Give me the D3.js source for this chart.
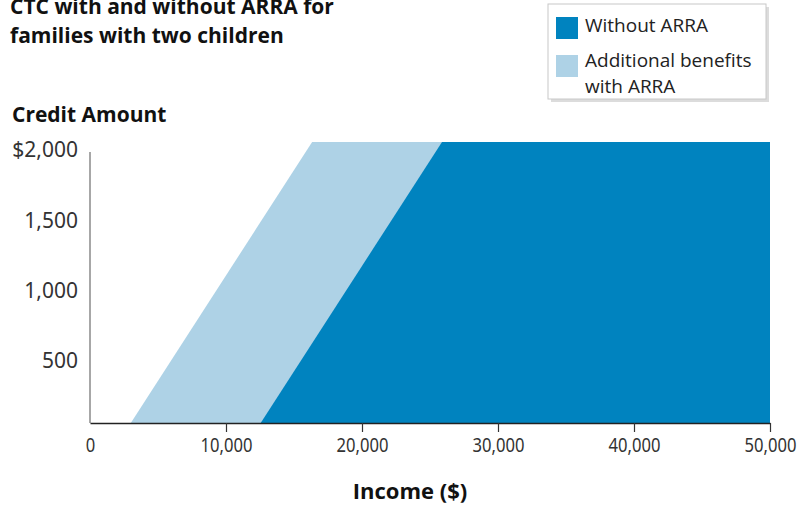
<!DOCTYPE html>
<html>
<head>
<meta charset="utf-8">
<script src="https://cdn.jsdelivr.net/npm/d3@7"></script>
<style>
  body { margin: 0; background: #fff; }
  svg { display: block; }
</style>
</head>
<body>
<svg id="chart"></svg>
<script>
// CTC with and without ARRA, two children
const xTicks = [0, 10000, 20000, 30000, 40000, 50000];
const yTicks = [500, 1000, 1500, 2000];

const withArraIncome = [3000, 16333, 50000];
const withArraCredit = [0, 2000, 2000];
const withoutIncome = [12550, 25883, 50000];
const withoutCredit = [0, 2000, 2000];

const legendLabels = [["Without ARRA"], ["Additional benefits", "with ARRA"]];

const width = 799, height = 508;
const dark = "#0083bf", light = "#aed2e6";
const bold = "'Open Sans', 'Noto Sans', sans-serif";

const svg = d3.select("#chart")
  .attr("width", width)
  .attr("height", height);

const x = d3.scaleLinear().domain([0, 50000]).range([90, 770]);
const y = d3.scaleLinear().domain([0, 2000]).range([423, 142]);

const area = d3.area()
  .x(d => x(d[0]))
  .y0(y(0))
  .y1(d => y(d[1]));

svg.append("path")
  .datum(d3.zip(withArraIncome, withArraCredit))
  .attr("fill", light)
  .attr("d", area);

svg.append("path")
  .datum(d3.zip(withoutIncome, withoutCredit))
  .attr("fill", dark)
  .attr("d", area);

// y axis: gray line, labels only
svg.append("line")
  .attr("x1", x(0)).attr("x2", x(0))
  .attr("y1", y(0)).attr("y2", y(2000) + 10)
  .attr("stroke", "#8a8a8a")
  .attr("stroke-width", 1.5);

svg.append("g")
  .selectAll("text")
  .data(yTicks)
  .join("text")
  .attr("x", 78)
  .attr("y", d => y(d) + 8)
  .attr("dy", "0.35em")
  .attr("text-anchor", "end")
  .attr("font-family", "'Noto Sans', sans-serif")
  .attr("font-size", 21)
  .attr("fill", "#333")
  .text(d => d === 2000 ? "$" + d3.format(",")(d) : d3.format(",")(d));

// x axis (labels squeezed a bit, the original uses a condensed face)
const xAxis = g => g
  .attr("transform", `translate(0,${y(0)})`)
  .call(d3.axisBottom(x).tickValues(xTicks).tickFormat(d3.format(",")).tickSize(9).tickPadding(6).tickSizeOuter(0))
  .call(g => g.select(".domain").attr("stroke", "#222").attr("stroke-width", 1.5))
  .call(g => g.selectAll(".tick line").attr("stroke", "#333").attr("stroke-width", 1.2)
    .filter(d => d === 0).remove())
  .call(g => g.selectAll(".tick text")
    .attr("font-family", "'Noto Sans', sans-serif")
    .attr("font-size", 20)
    .attr("fill", "#333")
    .attr("transform", "scale(0.83,1)"));

svg.append("g").call(xAxis);

svg.append("text")
  .attr("x", 410)
  .attr("y", 499)
  .attr("text-anchor", "middle")
  .attr("font-family", bold)
  .attr("font-weight", "bold")
  .attr("font-size", 22)
  .attr("fill", "#111")
  .text("Income ($)");

svg.append("text")
  .attr("x", 12)
  .attr("y", 122)
  .attr("font-family", bold)
  .attr("font-weight", "bold")
  .attr("font-size", 21)
  .attr("fill", "#111")
  .text("Credit Amount");

// title
svg.append("text")
  .attr("font-family", bold)
  .attr("font-weight", "bold")
  .attr("font-size", 21)
  .attr("fill", "#111")
  .selectAll("tspan")
  .data(["CTC with and without ARRA for", "families with two children"])
  .join("tspan")
  .attr("x", 10)
  .attr("y", (d, i) => 14 + i * 29)
  .text(d => d);

// legend
const legend = svg.append("g");

legend.append("rect")
  .attr("x", 551).attr("y", 7)
  .attr("width", 218).attr("height", 95)
  .attr("fill", "#dcdcdc");

legend.append("rect")
  .attr("x", 548).attr("y", 4)
  .attr("width", 218).attr("height", 95)
  .attr("fill", "#fff")
  .attr("stroke", "#c8c8c8");

const items = legend.selectAll("g.item")
  .data(legendLabels)
  .join("g")
  .attr("class", "item")
  .attr("transform", (d, i) => `translate(556,${17 + i * 38})`);

items.append("rect")
  .attr("width", 22).attr("height", 22)
  .attr("fill", (d, i) => i === 0 ? dark : light);

items.append("text")
  .attr("font-family", "'Open Sans', sans-serif")
  .attr("font-size", 19)
  .attr("fill", "#222")
  .attr("y", (d, i) => i === 0 ? 15 : 12)
  .selectAll("tspan")
  .data(d => d)
  .join("tspan")
  .attr("x", 29)
  .attr("dy", (d, i) => i === 0 ? 0 : 26)
  .text(d => d);
</script>
</body>
</html>
